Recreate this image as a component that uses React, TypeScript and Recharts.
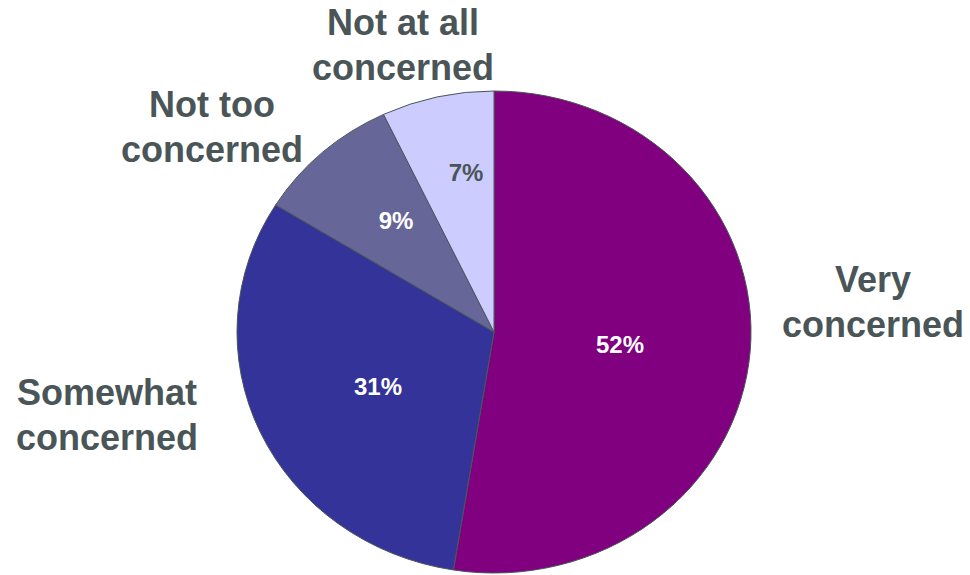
import { PieChart, Pie, Cell } from "recharts";

const categories = [
  "Very concerned",
  "Somewhat concerned",
  "Not too concerned",
  "Not at all concerned",
];
const shares = [52, 31, 9, 7];
const colors = ["#800080", "#333399", "#666699", "#CCCCFF"];

const data = categories.map((name, i) => ({ name, value: shares[i] }));

const TEXT_COLOR = "#4a5558";
const FONT = "'Liberation Sans', Arial, sans-serif";
const Y_SCALE = 241 / 257; // the original pie is slightly squashed

// label placement relative to the pie centre (layout only)
const innerOffsets = [
  [126, 21],
  [-116, 63],
  [-98, -103],
  [-28, -151],
];
const outerOffsets = [
  [379, -40],
  [-387, 73],
  [-282, -215],
  [-91, -297],
];

const EllipseSector = (props: any) => {
  const { cx, cy, outerRadius, startAngle, endAngle, fill, stroke } = props;
  const rad = Math.PI / 180;
  const rx = outerRadius;
  const ry = outerRadius * Y_SCALE;
  const x0 = cx + rx * Math.cos(startAngle * rad);
  const y0 = cy - ry * Math.sin(startAngle * rad);
  const x1 = cx + rx * Math.cos(endAngle * rad);
  const y1 = cy - ry * Math.sin(endAngle * rad);
  const large = Math.abs(endAngle - startAngle) > 180 ? 1 : 0;
  const sweep = startAngle > endAngle ? 1 : 0;
  return (
    <path
      d={`M${cx},${cy} L${x0},${y0} A${rx},${ry} 0 ${large} ${sweep} ${x1},${y1} Z`}
      fill={fill}
      stroke={stroke}
      strokeWidth={1}
      strokeLinejoin="round"
    />
  );
};

const renderLabel = (props: any) => {
  const { cx, cy, index, value, name } = props;
  const [ix, iy] = innerOffsets[index];
  const [ox, oy] = outerOffsets[index];
  const words = (name as string).replace(" concerned", "");
  return (
    <g fontFamily={FONT} fontWeight="bold">
      <text
        x={cx + ix}
        y={cy + iy}
        textAnchor="middle"
        fontSize={24}
        fill={index === 3 ? TEXT_COLOR : "#ffffff"}
      >
        {value}%
      </text>
      <text x={cx + ox} y={cy + oy} textAnchor="middle" fontSize={36} fill={TEXT_COLOR}>
        <tspan x={cx + ox}>{words}</tspan>
        <tspan x={cx + ox} dy={45}>
          concerned
        </tspan>
      </text>
    </g>
  );
};

export default function App() {
  return (
    <div style={{ position: "absolute", left: 0, top: 0, background: "#fff" }}>
      <PieChart width={970} height={575} margin={{ top: 0, right: 0, bottom: 0, left: 0 }}>
        <Pie
          data={data}
          dataKey="value"
          nameKey="name"
          cx={494}
          cy={332}
          outerRadius={257}
          startAngle={90}
          endAngle={-270}
          stroke="#4a5558"
          shape={EllipseSector}
          label={renderLabel}
          labelLine={false}
          isAnimationActive={false}
        >
          {data.map((d, i) => (
            <Cell key={d.name} fill={colors[i]} />
          ))}
        </Pie>
      </PieChart>
    </div>
  );
}
